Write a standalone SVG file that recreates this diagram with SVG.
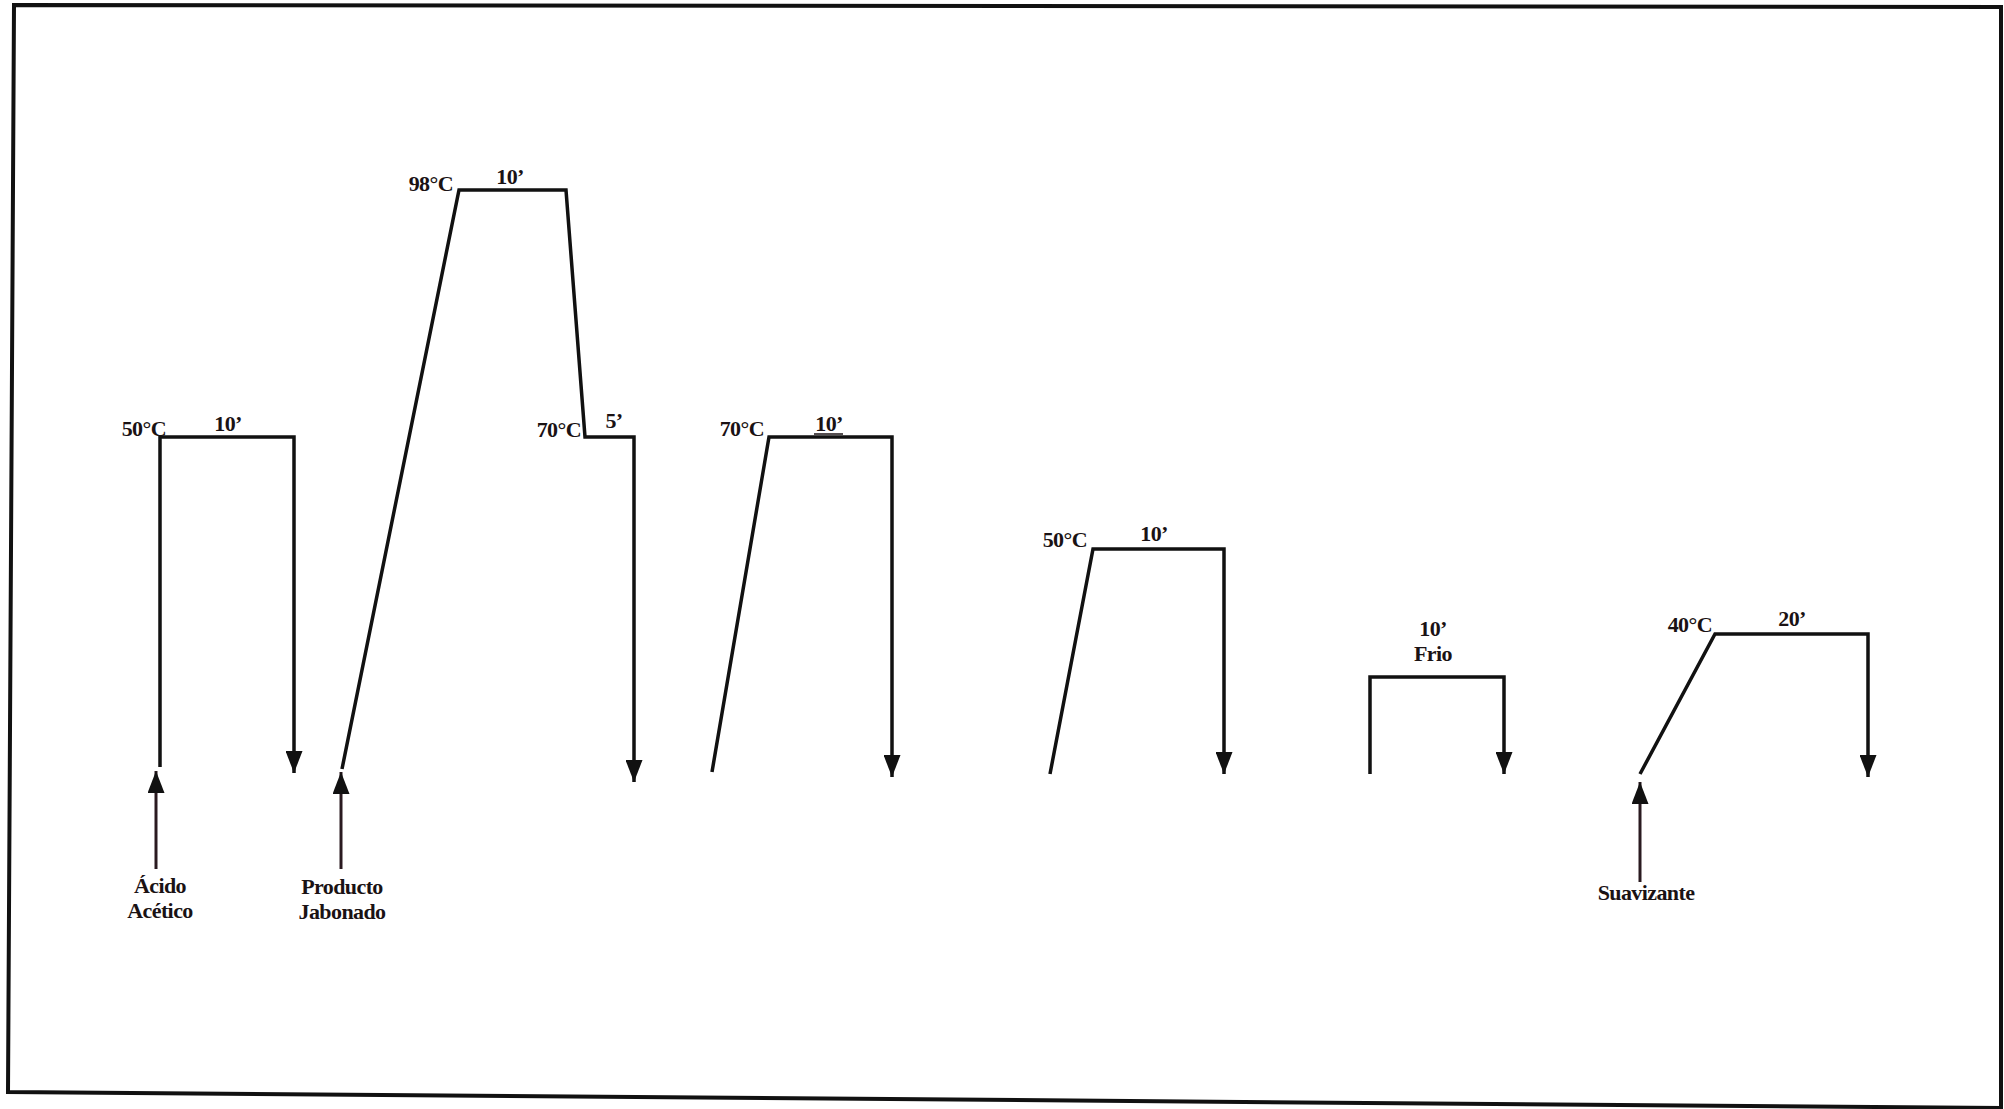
<svg xmlns="http://www.w3.org/2000/svg" width="2004" height="1109" viewBox="0 0 2004 1109">
<style>
.t{font-family:"Liberation Serif","Times New Roman",serif;font-weight:bold;font-size:22px;fill:#1a1214;letter-spacing:-0.6px}
.m{text-anchor:middle}
.e{text-anchor:end}
.ln{fill:none;stroke:#111;stroke-width:3.5;stroke-linejoin:miter}
.in{fill:none;stroke:#2a1a20;stroke-width:3}
</style>
<defs>
<marker id="ah" viewBox="0 0 22 17" refX="22" refY="8.5" markerWidth="22" markerHeight="17" markerUnits="userSpaceOnUse" orient="auto">
<path d="M0,0 L22,8.5 L0,17 Z" fill="#111"/>
</marker>
</defs>
<rect width="2004" height="1109" fill="#fff"/>
<polygon points="14,5 2001,7 2001,1108 8,1092" fill="none" stroke="#111" stroke-width="4"/>

<g id="connectors">
<polyline class="ln" points="160,767 160,437 294,437 294,773" marker-end="url(#ah)"/>
<polyline class="ln" points="342,769 459,190 566,190 585,437 634,437 634,782" marker-end="url(#ah)"/>
<polyline class="ln" points="712,772 769,437 892,437 892,777" marker-end="url(#ah)"/>
<polyline class="ln" points="1050,774 1093,549 1224,549 1224,774" marker-end="url(#ah)"/>
<polyline class="ln" points="1370,774 1370,677 1504,677 1504,774" marker-end="url(#ah)"/>
<polyline class="ln" points="1640,774 1715,634 1868,634 1868,777" marker-end="url(#ah)"/>
<line class="in" x1="156" y1="869" x2="156" y2="771" marker-end="url(#ah)"/>
<line class="in" x1="341" y1="869" x2="341" y2="772" marker-end="url(#ah)"/>
<line class="in" x1="1640" y1="882" x2="1640" y2="782" marker-end="url(#ah)"/>
</g>

<g id="p1">
<text class="t e" x="166" y="436">50°C</text>
<text class="t m" x="228" y="431">10’</text>
</g>
<g id="p2">
<text class="t e" x="453" y="191">98°C</text>
<text class="t m" x="510" y="184">10’</text>
<text class="t e" x="581" y="437">70°C</text>
<text class="t m" x="614" y="428">5’</text>
</g>
<g id="p3">
<text class="t e" x="764" y="436">70°C</text>
<text class="t m" x="829" y="431">10’</text>
<line x1="814" y1="434" x2="843" y2="434" stroke="#1a1214" stroke-width="1.5"/>
</g>
<g id="p4">
<text class="t e" x="1087" y="547">50°C</text>
<text class="t m" x="1154" y="541">10’</text>
</g>
<g id="p5">
<text class="t m" x="1433" y="636">10’</text>
<text class="t m" x="1433" y="661">Frio</text>
</g>
<g id="p6">
<text class="t e" x="1712" y="632">40°C</text>
<text class="t m" x="1792" y="626">20’</text>
</g>
<g id="in1">
<text class="t m" x="160" y="893">Ácido</text>
<text class="t m" x="160" y="918">Acético</text>
</g>
<g id="in2">
<text class="t m" x="342" y="894">Producto</text>
<text class="t m" x="342" y="919">Jabonado</text>
</g>
<g id="in3">
<text class="t m" x="1646" y="900">Suavizante</text>
</g>
</svg>
